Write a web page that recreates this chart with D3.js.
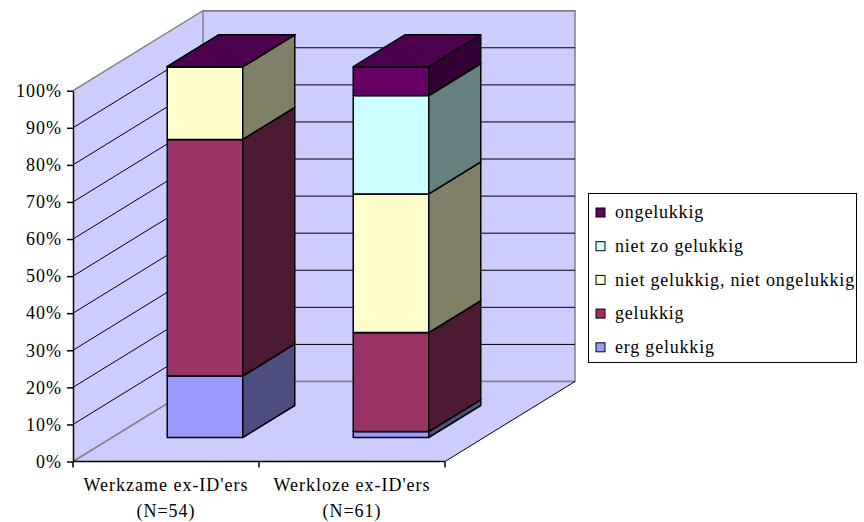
<!DOCTYPE html>
<html>
<head>
<meta charset="utf-8">
<script src="https://cdn.jsdelivr.net/npm/d3@7"></script>
<style>
	body { margin: 0; background: #fff; }
	svg text { font-family: "Liberation Serif", "Times New Roman", Times, "DejaVu Serif", serif !important; fill: #000; }
</style>
</head>
<body>
<div id="chart"></div>
<script>
	//Chart values
	const categories = ["Werkzame ex-ID'ers", "Werkloze ex-ID'ers"];
	const groupSizes = ["(N=54)", "(N=61)"];
	const seriesNames = ["erg gelukkig", "gelukkig", "niet gelukkig, niet ongelukkig", "niet zo gelukkig", "ongelukkig"];
	const ergGelukkig = [16.6, 1.6];
	const gelukkig = [63.8, 26.7];
	const neutraal = [19.6, 37.4];
	const nietZoGelukkig = [0, 26.5];
	const ongelukkig = [0, 7.8];
	const yTicks = [0, 10, 20, 30, 40, 50, 60, 70, 80, 90, 100];

	const seriesValues = [ergGelukkig, gelukkig, neutraal, nietZoGelukkig, ongelukkig];
	const colors = ['#9999FF', '#993366', '#FFFFCC', '#CCFFFF', '#660066'];

	const width = 864, height = 522;
	const depthX = 130, depthY = -80;    //screen offset of the back wall
	const barFront = 0.3, barBack = 0.7; //bar position in depth

	let svg = d3.select('#chart')
		.append('svg')
		.attr('width', width)
		.attr('height', height);

	let xScale = d3.scaleBand()
		.domain(categories)
		.range([73, 445]);

	let yScale = d3.scaleLinear()
		.domain([0, 100])
		.range([461.5, 90.7]);

	//project a point (x on front plane, value, depth 0..1) to the screen
	const proj = (x, v, z) => [x + z * depthX, yScale(v) + z * depthY];
	const poly = pts => pts.map(p => p.join(',')).join(' ');

	let x0 = xScale.range()[0], x1 = xScale.range()[1];

	//walls and floor
	svg.append('polygon')
		.attr('points', poly([proj(x0, 0, 0), proj(x0, 100, 0), proj(x0, 100, 1), proj(x0, 0, 1)]))
		.style('fill', '#CCCCFF');
	svg.append('polygon')
		.attr('points', poly([proj(x0, 0, 1), proj(x0, 100, 1), proj(x1, 100, 1), proj(x1, 0, 1)]))
		.style('fill', '#CCCCFF')
		.style('stroke', '#808080')
		.style('stroke-width', 1.5);
	svg.append('polygon')
		.attr('points', poly([proj(x0, 0, 0), proj(x1, 0, 0), proj(x1, 0, 1), proj(x0, 0, 1)]))
		.style('fill', '#CCCCFF');

	//gridlines across the side wall and back wall
	svg.selectAll('polyline.grid')
		.data(yTicks)
		.enter()
		.append('polyline')
		.attr('class', 'grid')
		.attr('points', d => poly([proj(x0, d, 0), proj(x0, d, 1), proj(x1, d, 1)]))
		.style('fill', 'none')
		.style('stroke', d => (d === 0 || d === 100) ? '#808080' : '#000')
		.style('stroke-width', d => (d === 0 || d === 100) ? 1.5 : 1);

	//right edge of the floor
	svg.append('line')
		.attr('x1', proj(x1, 0, 0)[0]).attr('y1', proj(x1, 0, 0)[1])
		.attr('x2', proj(x1, 0, 1)[0]).attr('y2', proj(x1, 0, 1)[1])
		.style('stroke', '#000')
		.style('stroke-width', 1);

	//stacked 3D columns
	let stack = d3.stack()
		.keys(d3.range(seriesNames.length))
		.value((d, k) => seriesValues[k][d]);
	let stacked = stack(d3.range(categories.length));

	const shade = (c, f) => {
		let rgb = d3.rgb(c);
		return d3.rgb(rgb.r * f, rgb.g * f, rgb.b * f).formatHex();
	};

	let barWidth = xScale.bandwidth() * 0.406;

	categories.forEach((cat, ci) => {
		let bl = xScale(cat) + (xScale.bandwidth() - barWidth) / 2;
		let br = bl + barWidth;
		let g = svg.append('g').attr('class', 'column');
		stacked.forEach((layer, si) => {
			let lo = layer[ci][0], hi = layer[ci][1];
			let faces = [
				//front
				{ pts: [proj(bl, lo, barFront), proj(br, lo, barFront), proj(br, hi, barFront), proj(bl, hi, barFront)], f: 1 },
				//side
				{ pts: [proj(br, lo, barFront), proj(br, lo, barBack), proj(br, hi, barBack), proj(br, hi, barFront)], f: 0.5 },
				//top
				{ pts: [proj(bl, hi, barFront), proj(br, hi, barFront), proj(br, hi, barBack), proj(bl, hi, barBack)], f: 0.75 }
			];
			g.selectAll(null)
				.data(faces)
				.enter()
				.append('polygon')
				.attr('points', d => poly(d.pts))
				.style('fill', d => shade(colors[si], d.f))
				.style('stroke', '#000')
				.style('stroke-width', 1.5)
				.style('stroke-linejoin', 'round');
		});
	});

	//Y axis
	let yAxis = svg.append('g')
		.attr('transform', `translate(${x0}, 0)`)
		.call(d3.axisLeft(yScale).tickValues(yTicks).tickFormat(d => d + '%').tickSize(6).tickPadding(5).tickSizeOuter(0));
	yAxis.attr('font-family', null).attr('font-size', null);
	yAxis.selectAll('text')
		.style('font-size', '18px')
		.style('letter-spacing', '1px');
	yAxis.selectAll('line, path').style('stroke', '#000').style('stroke-width', 1.5);

	//X axis
	let xAxis = svg.append('g');
	xAxis.append('line')
		.attr('x1', x0).attr('x2', x1)
		.attr('y1', yScale(0)).attr('y2', yScale(0))
		.style('stroke', '#000').style('stroke-width', 1.5);
	xAxis.selectAll('line.tick')
		.data([x0].concat(categories.map(c => xScale(c) + xScale.bandwidth())))
		.enter()
		.append('line')
		.attr('class', 'tick')
		.attr('x1', d => d).attr('x2', d => d)
		.attr('y1', yScale(0)).attr('y2', yScale(0) + 6)
		.style('stroke', '#000').style('stroke-width', 1.5);
	let labels = xAxis.selectAll('text.cat')
		.data(categories)
		.enter()
		.append('text')
		.attr('class', 'cat')
		.attr('text-anchor', 'middle')
		.style('font-size', '18px')
		.style('letter-spacing', '1px');
	labels.append('tspan')
		.attr('x', d => xScale(d) + xScale.bandwidth() / 2)
		.attr('y', 491)
		.text(d => d);
	labels.append('tspan')
		.attr('x', d => xScale(d) + xScale.bandwidth() / 2)
		.attr('y', 517)
		.text((d, i) => groupSizes[i]);

	//Legend
	let legend = svg.append('g').attr('class', 'legend');
	legend.append('rect')
		.attr('x', 588.5).attr('y', 193.5)
		.attr('width', 268).attr('height', 169)
		.style('fill', '#fff')
		.style('stroke', '#000')
		.style('stroke-width', 1);
	let items = legend.selectAll('g.item')
		.data(seriesNames.map((n, i) => ({ name: n, color: colors[i] })).reverse())
		.enter()
		.append('g')
		.attr('class', 'item')
		.attr('transform', (d, i) => `translate(596, ${212.5 + i * 33.7})`);
	items.append('rect')
		.attr('x', 0).attr('y', -4.5)
		.attr('width', 9).attr('height', 9)
		.style('fill', d => d.color)
		.style('stroke', '#000')
		.style('stroke-width', 1);
	items.append('text')
		.attr('x', 19)
		.attr('dy', '0.32em')
		.style('font-size', '18px')
		.style('letter-spacing', '0.8px')
		.text(d => d.name);
</script>
</body>
</html>
